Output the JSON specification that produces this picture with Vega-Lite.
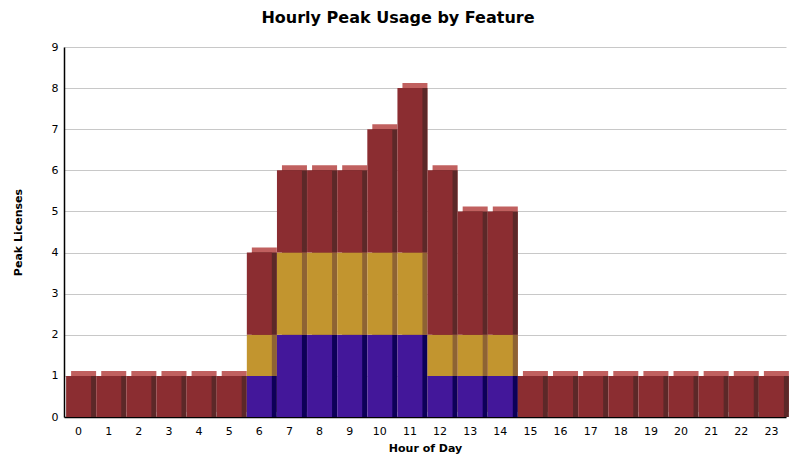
{
  "$schema": "https://vega.github.io/schema/vega-lite/v6.json",
  "width": 722,
  "height": 370,
  "autosize": {"type": "none"},
  "padding": {"left": 64, "top": 47, "right": 17, "bottom": 56},
  "background": "white",
  "title": {
    "text": "Hourly Peak Usage by Feature",
    "font": "DejaVu Sans",
    "fontSize": 16,
    "fontWeight": "bold",
    "color": "#000000",
    "anchor": "middle",
    "offset": 15,
    "dx": -27
  },
  "config": {
    "view": {"stroke": null},
    "axis": {
      "labelFont": "DejaVu Sans",
      "labelFontSize": 11,
      "labelColor": "#000000",
      "titleFont": "DejaVu Sans",
      "titleFontSize": 11,
      "titleFontWeight": "bold",
      "titleColor": "#000000",
      "domainColor": "#000000",
      "domainWidth": 1.5
    }
  },
  "data": {
    "values": [
      {"hour": 0, "feature": "C", "ord": 3, "value": 1},
      {"hour": 1, "feature": "C", "ord": 3, "value": 1},
      {"hour": 2, "feature": "C", "ord": 3, "value": 1},
      {"hour": 3, "feature": "C", "ord": 3, "value": 1},
      {"hour": 4, "feature": "C", "ord": 3, "value": 1},
      {"hour": 5, "feature": "C", "ord": 3, "value": 1},
      {"hour": 6, "feature": "A", "ord": 1, "value": 1},
      {"hour": 6, "feature": "B", "ord": 2, "value": 1},
      {"hour": 6, "feature": "C", "ord": 3, "value": 2},
      {"hour": 7, "feature": "A", "ord": 1, "value": 2},
      {"hour": 7, "feature": "B", "ord": 2, "value": 2},
      {"hour": 7, "feature": "C", "ord": 3, "value": 2},
      {"hour": 8, "feature": "A", "ord": 1, "value": 2},
      {"hour": 8, "feature": "B", "ord": 2, "value": 2},
      {"hour": 8, "feature": "C", "ord": 3, "value": 2},
      {"hour": 9, "feature": "A", "ord": 1, "value": 2},
      {"hour": 9, "feature": "B", "ord": 2, "value": 2},
      {"hour": 9, "feature": "C", "ord": 3, "value": 2},
      {"hour": 10, "feature": "A", "ord": 1, "value": 2},
      {"hour": 10, "feature": "B", "ord": 2, "value": 2},
      {"hour": 10, "feature": "C", "ord": 3, "value": 3},
      {"hour": 11, "feature": "A", "ord": 1, "value": 2},
      {"hour": 11, "feature": "B", "ord": 2, "value": 2},
      {"hour": 11, "feature": "C", "ord": 3, "value": 4},
      {"hour": 12, "feature": "A", "ord": 1, "value": 1},
      {"hour": 12, "feature": "B", "ord": 2, "value": 1},
      {"hour": 12, "feature": "C", "ord": 3, "value": 4},
      {"hour": 13, "feature": "A", "ord": 1, "value": 1},
      {"hour": 13, "feature": "B", "ord": 2, "value": 1},
      {"hour": 13, "feature": "C", "ord": 3, "value": 3},
      {"hour": 14, "feature": "A", "ord": 1, "value": 1},
      {"hour": 14, "feature": "B", "ord": 2, "value": 1},
      {"hour": 14, "feature": "C", "ord": 3, "value": 3},
      {"hour": 15, "feature": "C", "ord": 3, "value": 1},
      {"hour": 16, "feature": "C", "ord": 3, "value": 1},
      {"hour": 17, "feature": "C", "ord": 3, "value": 1},
      {"hour": 18, "feature": "C", "ord": 3, "value": 1},
      {"hour": 19, "feature": "C", "ord": 3, "value": 1},
      {"hour": 20, "feature": "C", "ord": 3, "value": 1},
      {"hour": 21, "feature": "C", "ord": 3, "value": 1},
      {"hour": 22, "feature": "C", "ord": 3, "value": 1},
      {"hour": 23, "feature": "C", "ord": 3, "value": 1}
    ]
  },
  "encoding": {
    "x": {
      "field": "hour",
      "type": "ordinal",
      "scale": {"paddingInner": 0.17, "paddingOuter": 0.07},
      "axis": {"title": "Hour of Day", "labelAngle": 0, "ticks": false, "labelPadding": 8, "titlePadding": 6}
    },
    "y": {
      "field": "value",
      "type": "quantitative",
      "stack": "zero",
      "scale": {"domain": [0, 9], "nice": false},
      "axis": {"title": "Peak Licenses", "values": [0, 1, 2, 3, 4, 5, 6, 7, 8, 9], "labelOverlap": false, "ticks": false, "labelPadding": 6, "titlePadding": 28, "grid": true, "gridColor": "#c8c8c8", "gridWidth": 1}
    },
    "order": {"field": "ord", "type": "quantitative"}
  },
  "layer": [
    {
      "mark": {"type": "bar", "xOffset": 5, "yOffset": -5, "color": "#c0605f"}
    },
    {
      "mark": {"type": "bar", "xOffset": 5},
      "encoding": {
        "color": {
          "field": "feature",
          "type": "nominal",
          "scale": {"domain": ["A", "B", "C"], "range": ["#0d0058", "#8e6333", "#5c2828"]},
          "legend": null
        }
      }
    },
    {
      "mark": {"type": "bar"},
      "encoding": {
        "color": {
          "field": "feature",
          "type": "nominal",
          "scale": {"domain": ["A", "B", "C"], "range": ["#43179a", "#c2952f", "#8b2d31"]},
          "legend": null
        }
      }
    }
  ],
  "resolve": {"scale": {"color": "independent"}}
}
